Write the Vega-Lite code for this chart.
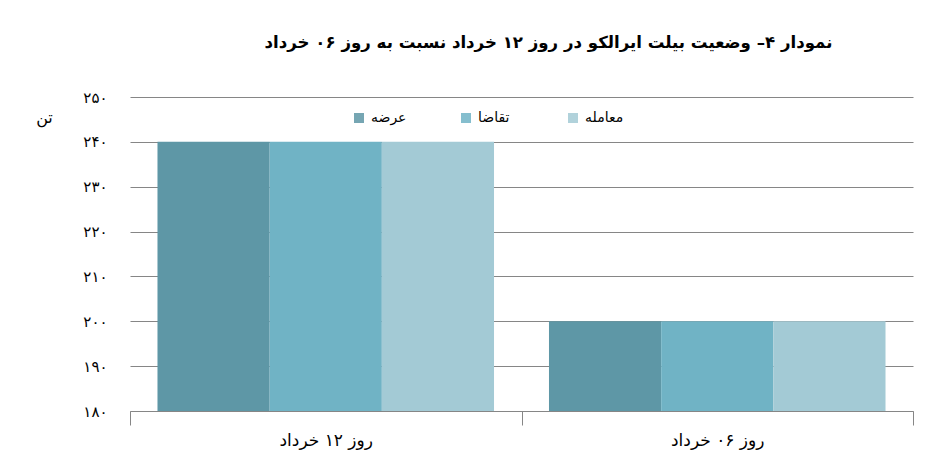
{
  "$schema": "https://vega.github.io/schema/vega-lite/v6.json",
  "width": 783,
  "height": 314,
  "autosize": "none",
  "padding": {"left": 130, "top": 97, "right": 34, "bottom": 63},
  "background": "#ffffff",
  "title": {
    "text": "نمودار ۴– وضعیت بیلت ایرالکو در روز ۱۲ خرداد نسبت به روز ۰۶ خرداد",
    "font": "DejaVu Sans",
    "fontSize": 16.6,
    "fontWeight": "bold",
    "color": "#000000",
    "anchor": "middle",
    "dx": 27,
    "offset": 38
  },
  "data": {
    "values": [
      {"day": "روز ۱۲ خرداد", "series": "عرضه", "value": 240},
      {"day": "روز ۱۲ خرداد", "series": "تقاضا", "value": 240},
      {"day": "روز ۱۲ خرداد", "series": "معامله", "value": 240},
      {"day": "روز ۰۶ خرداد", "series": "عرضه", "value": 200},
      {"day": "روز ۰۶ خرداد", "series": "تقاضا", "value": 200},
      {"day": "روز ۰۶ خرداد", "series": "معامله", "value": 200}
    ]
  },
  "mark": {"type": "bar", "clip": true},
  "encoding": {
    "x": {
      "field": "day",
      "type": "nominal",
      "sort": ["روز ۱۲ خرداد", "روز ۰۶ خرداد"],
      "scale": {"paddingInner": 0, "paddingOuter": 0},
      "axis": {
        "title": null,
        "labelAngle": 0,
        "labelFont": "DejaVu Sans",
        "labelFontSize": 17,
        "labelColor": "#000000",
        "labelPadding": 7,
        "tickBand": "extent",
        "tickSize": 14,
        "tickColor": "#868686",
        "domainColor": "#868686",
        "grid": false,
        "zindex": 1
      }
    },
    "xOffset": {
      "field": "series",
      "type": "nominal",
      "sort": ["عرضه", "تقاضا", "معامله"],
      "scale": {"paddingInner": 0, "paddingOuter": 0.245}
    },
    "y": {
      "field": "value",
      "type": "quantitative",
      "scale": {"domain": [180, 250], "nice": false, "zero": false},
      "axis": {
        "title": "تن",
        "titleAngle": 0,
        "titleFont": "DejaVu Sans",
        "titleFontSize": 16,
        "titleFontWeight": "normal",
        "titleColor": "#000000",
        "titleX": -86,
        "titleY": 28,
        "titleAlign": "center",
        "values": [180, 190, 200, 210, 220, 230, 240, 250],
        "labelExpr": "replace(replace(replace(replace(replace(replace(replace(replace(datum.label, /0/g, '۰'), /1/g, '۱'), /2/g, '۲'), /3/g, '۳'), /4/g, '۴'), /5/g, '۵'), /8/g, '۸'), /9/g, '۹')",
        "labelFont": "DejaVu Sans",
        "labelFontSize": 15,
        "labelColor": "#000000",
        "labelPadding": 23,
        "ticks": false,
        "domain": false,
        "grid": true,
        "gridColor": "#868686",
        "gridWidth": 1
      }
    },
    "color": {
      "field": "series",
      "type": "nominal",
      "sort": ["عرضه", "تقاضا", "معامله"],
      "scale": {
        "domain": ["عرضه", "تقاضا", "معامله"],
        "range": ["#5e97a6", "#70b3c5", "#a3cad5"]
      },
      "legend": {
        "title": null,
        "orient": "none",
        "direction": "horizontal",
        "legendX": 222,
        "legendY": 14,
        "symbolType": "square",
        "symbolSize": 100,
        "symbolOpacity": 0.85,
        "symbolStrokeWidth": 0,
        "labelFont": "DejaVu Sans",
        "labelFontSize": 14,
        "labelColor": "#000000",
        "labelOffset": 5,
        "gridAlign": "all",
        "columnPadding": 49
      }
    }
  },
  "config": {
    "view": {"stroke": null}
  }
}
